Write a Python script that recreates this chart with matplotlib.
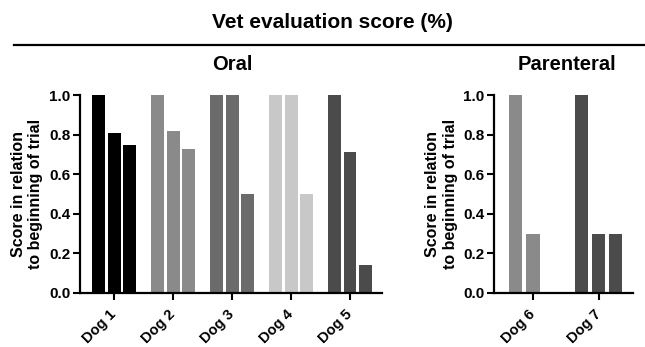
import matplotlib
matplotlib.use("Agg")
import matplotlib.pyplot as plt
from matplotlib.lines import Line2D
import numpy as np

plt.rcParams['font.family'] = ['Liberation Sans', 'DejaVu Sans']
plt.rcParams['font.weight'] = 'bold'

oral_dogs = ['Dog 1', 'Dog 2', 'Dog 3', 'Dog 4', 'Dog 5']
oral_scores = [
    [1.0, 0.81, 0.75],
    [1.0, 0.82, 0.725],
    [1.0, 1.0, 0.5],
    [1.0, 1.0, 0.5],
    [1.0, 0.71, 0.14],
]
oral_colors = ['#000000', '#8a8a8a', '#6b6b6b', '#c8c8c8', '#4b4b4b']

par_dogs = ['Dog 6', 'Dog 7']
par_scores = [
    [1.0, 0.3, 0.0],
    [1.0, 0.3, 0.3],
]
par_colors = ['#8a8a8a', '#4b4b4b']

ylabel = 'Score in relation\nto beginning of trial'


def draw(ax, dogs, scores, colors, pitch, width, xlim):
    for i, (vals, c) in enumerate(zip(scores, colors)):
        for j, v in enumerate(vals):
            ax.bar(i + (j - 1) * pitch, v, width=width, color=c,
                   edgecolor='none')
    ax.set_xlim(*xlim)
    ax.set_ylim(0, 1.0)
    ax.set_yticks(np.arange(0, 1.01, 0.2))
    ax.set_yticklabels(['%.1f' % t for t in np.arange(0, 1.01, 0.2)],
                       fontsize=11, fontweight='bold')
    ax.set_xticks(range(len(dogs)))
    ax.set_xticklabels(dogs, rotation=45, ha='right', va='center',
                       rotation_mode='anchor', fontsize=10.5, fontweight='bold')
    ax.tick_params(axis='x', pad=9)
    ax.tick_params(axis='y', pad=2)
    ax.tick_params(width=1.5, length=5, color='black')
    for s in ['top', 'right']:
        ax.spines[s].set_visible(False)
    for s in ['left', 'bottom']:
        ax.spines[s].set_linewidth(1.6)
    ax.set_ylabel(ylabel, fontsize=11.5, fontweight='bold', labelpad=4)


fig = plt.figure(figsize=(6.45, 3.47), dpi=100)
ax1 = fig.add_axes([0.124, 0.156, 0.468, 0.570])
ax2 = fig.add_axes([0.766, 0.156, 0.215, 0.570])

draw(ax1, oral_dogs, oral_scores, oral_colors, 0.263, 0.22, (-0.58, 4.54))
draw(ax2, par_dogs, par_scores, par_colors, 0.26, 0.205, (-0.59, 1.52))

fig.text(0.515, 0.935, 'Vet evaluation score (%)', ha='center', va='center',
         fontsize=15, fontweight='bold')
fig.add_artist(Line2D([0.022, 1.0], [0.870, 0.870], color='black', lw=1.6,
                      transform=fig.transFigure))
fig.text(0.360, 0.815, 'Oral', ha='center', va='center', fontsize=14.5,
         fontweight='bold')
fig.text(0.879, 0.815, 'Parenteral', ha='center', va='center', fontsize=14.5,
         fontweight='bold')

fig.savefig('out.png', dpi=100)
